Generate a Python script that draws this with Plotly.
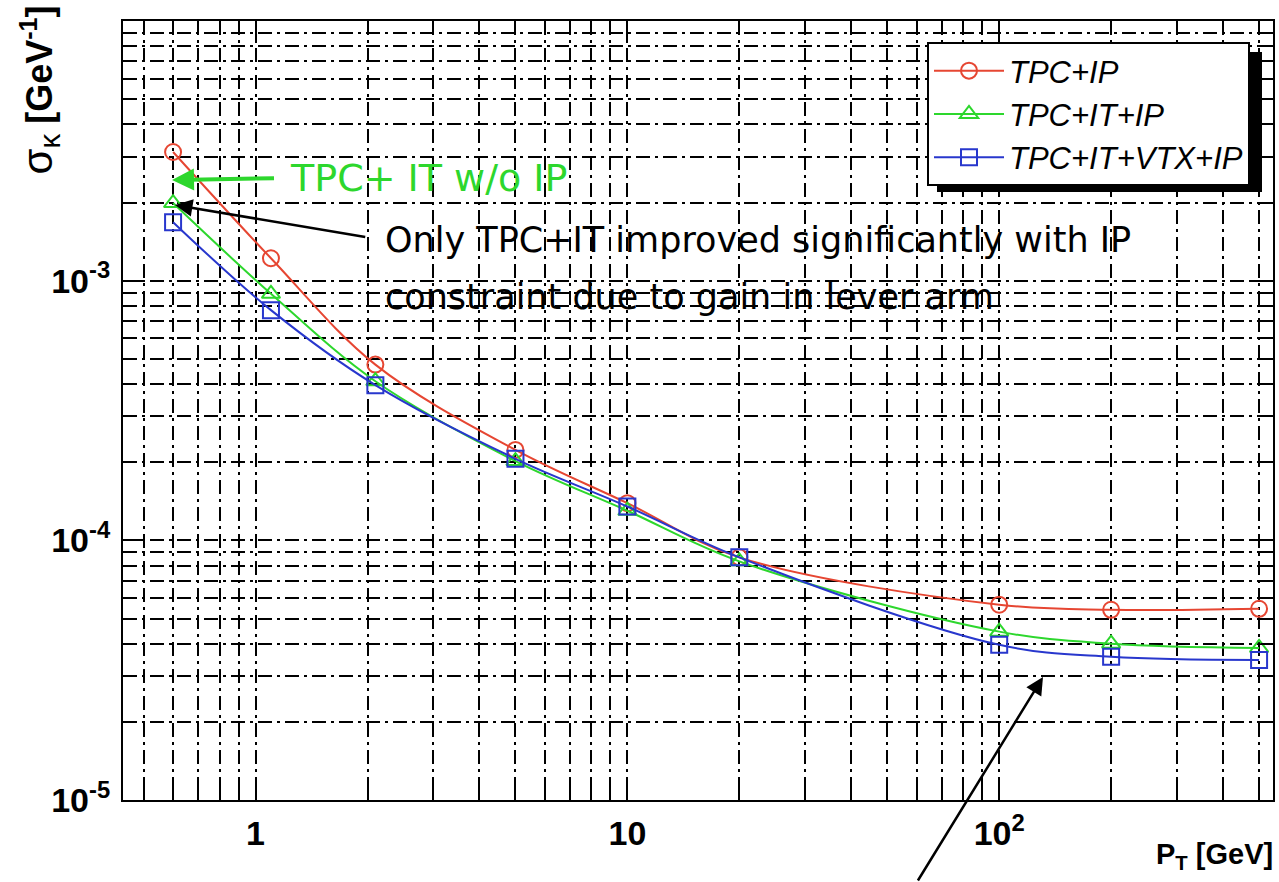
import plotly.graph_objects as go
import math

# ---------------- data ----------------
pt = [0.6, 1.1, 2.1, 5, 10, 20, 100, 200, 500]
tpc_ip = [3.13e-3, 1.22e-3, 4.75e-4, 2.23e-4, 1.39e-4, 8.6e-5, 5.65e-5, 5.4e-5, 5.45e-5]
tpc_it_ip = [1.99e-3, 8.9e-4, 4.1e-4, 2.02e-4, 1.30e-4, 8.3e-5, 4.45e-5, 4.0e-5, 3.85e-5]
tpc_it_vtx_ip = [1.68e-3, 7.7e-4, 3.96e-4, 2.06e-4, 1.35e-4, 8.6e-5, 3.96e-5, 3.56e-5, 3.46e-5]
series_names = ["TPC+IP", "TPC+IT+IP", "TPC+IT+VTX+IP"]

x_tickvals = [1, 10, 100]
x_ticktext = ["1", "10", "10<sup>2</sup>"]
y_tickvals = [1e-5, 1e-4, 1e-3, 1e-2]
y_ticktext = ["10<sup>-5</sup>", "10<sup>-4</sup>", "10<sup>-3</sup>", "10<sup>-2</sup>"]
x_range = [0.44, 545]
y_range = [1e-5, 1e-2]

# ---------------- layout geometry ----------------
W, H = 1279, 882
ML, MR, MT, MB = 123, 6, 21, 82
PW, PH = W - ML - MR, H - MT - MB


def px(xp):
    return (xp - ML) / PW


def py(yp):
    return (H - MB - yp) / PH


RED = "rgb(230,70,50)"
GREEN = "rgb(45,215,45)"
BLUE = "rgb(40,55,205)"

fig = go.Figure()
styles = [
    (tpc_ip, RED, "circle-open"),
    (tpc_it_ip, GREEN, "triangle-up-open"),
    (tpc_it_vtx_ip, BLUE, "square-open"),
]
for (vals, col, sym), name in zip(styles, series_names):
    fig.add_trace(go.Scatter(
        x=pt, y=vals, name=name, mode="lines+markers",
        line=dict(color=col, width=2, shape="spline"),
        marker=dict(symbol=sym, size=16, color=col, line=dict(width=2, color=col)),
    ))

GRID_DASH = "14px,5px,3px,5px"
axis_common = dict(
    type="log", showline=True, linecolor="black", linewidth=2, mirror="ticks",
    ticks="inside", ticklen=22, tickwidth=2, tickcolor="black",
    showgrid=True, gridcolor="black", gridwidth=1.5, griddash=GRID_DASH,
    zeroline=False,
    tickfont=dict(family="Liberation Sans", size=34, color="black", weight="bold"),
    minor=dict(dtick="D1", ticks="inside", ticklen=12, tickwidth=1.5, tickcolor="black",
               showgrid=True, gridcolor="black", gridwidth=1.5, griddash=GRID_DASH),
)
fig.update_xaxes(range=[math.log10(x_range[0]), math.log10(x_range[1])],
                 tickvals=x_tickvals, ticktext=x_ticktext, ticklabelstandoff=2,
                 **axis_common)
fig.update_yaxes(range=[math.log10(y_range[0]), math.log10(y_range[1])],
                 tickvals=y_tickvals, ticktext=y_ticktext, ticklabelstandoff=4,
                 **axis_common)

annotations = [
    # y-axis title
    dict(text="<span style='font-size:42px'>σ<sub>κ</sub></span> <b>[GeV<sup>-1</sup>]</b>",
         textangle=-90,
         xref="paper", yref="paper", x=px(40), y=py(4), xanchor="center", yanchor="top",
         showarrow=False, font=dict(family="Liberation Sans", size=36, color="black")),
    # x-axis title
    dict(text="<b>P<sub>T</sub> [GeV]</b>", xref="paper", yref="paper",
         x=px(1275), y=py(856), xanchor="right", yanchor="middle",
         showarrow=False, font=dict(family="Liberation Sans", size=29, color="black")),
    # green label with arrow pointing to the first point
    dict(text="TPC+ IT w/o IP", xref="paper", yref="paper", x=px(172), y=py(180),
         ax=116, ay=-2, xanchor="left", yanchor="middle",
         showarrow=True, arrowhead=2, arrowsize=1.1, arrowwidth=4, arrowcolor=GREEN,
         standoff=0, startstandoff=14,
         font=dict(family="DejaVu Sans", size=38, color=GREEN)),
    # black note with arrow
    dict(text="Only TPC+IT improved significantly with IP", xref="paper", yref="paper",
         x=px(175), y=py(205), ax=208, ay=35, xanchor="left", yanchor="middle",
         showarrow=True, arrowhead=2, arrowsize=1.4, arrowwidth=2.5, arrowcolor="black",
         standoff=0, startstandoff=18,
         font=dict(family="DejaVu Sans", size=35, color="black")),
    dict(text="constraint due to gain in lever arm", xref="paper", yref="paper",
         x=px(383), y=py(297), xanchor="left", yanchor="middle", showarrow=False,
         font=dict(family="DejaVu Sans", size=35, color="black")),
    # bottom arrow
    dict(text="", xref="paper", yref="paper", x=px(1043), y=py(677), ax=-126, ay=205,
         showarrow=True, arrowhead=2, arrowsize=1.4, arrowwidth=2.5, arrowcolor="black",
         standoff=0),
]

shapes = [
    # legend shadow
    dict(type="rect", xref="paper", yref="paper", x0=px(937), x1=px(1262),
         y0=py(192), y1=py(52), fillcolor="black", line=dict(width=0), layer="above"),
]

fig.update_layout(
    width=W, height=H, margin=dict(l=ML, r=MR, t=MT, b=MB, autoexpand=False),
    paper_bgcolor="white", plot_bgcolor="white",
    showlegend=True,
    legend=dict(x=px(927), y=py(42), xanchor="left", yanchor="top",
                bgcolor="white", bordercolor="black", borderwidth=2,
                font=dict(family="Liberation Sans", size=31, color="black", style="italic"),
                itemwidth=70, tracegroupgap=0),
    annotations=annotations, shapes=shapes,
)

fig.write_html("out.html", config={"displayModeBar": False},
               post_script="document.body.style.margin='0px';")
